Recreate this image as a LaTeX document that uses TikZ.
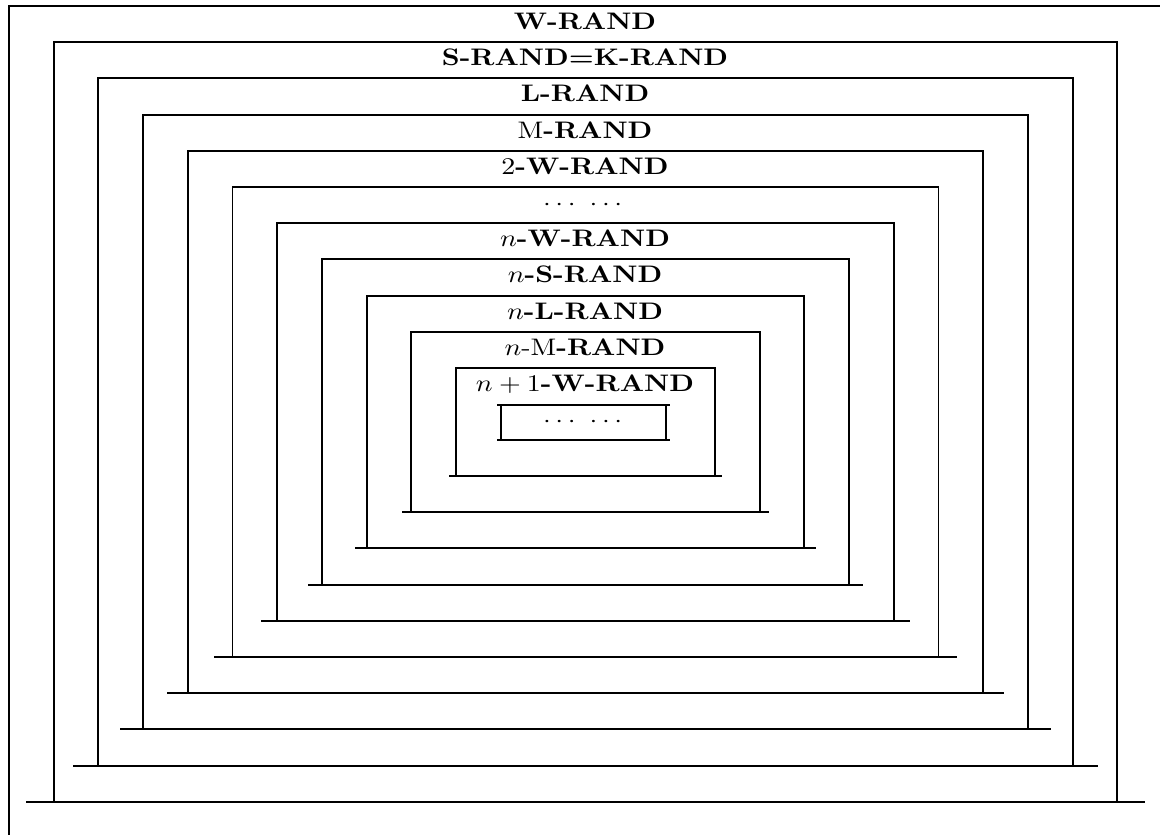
\documentclass[tikz,border=0pt]{standalone}
\usepackage{amsmath,amssymb}
\usetikzlibrary{calc}
\tikzset{frame/.style={line width=0.8pt,black},
  tag/.style={anchor=base,xscale=1.17,inner sep=0pt}}

\begin{document}
\begin{tikzpicture}[x=0.0147cm,y=0.0147cm]
\useasboundingbox (0,-834) rectangle (1160,0);
\clip (0,-834) rectangle (1160,0);
% nested frames: roof, two legs, foot bar
\foreach \k in {0,...,10}{
  \pgfmathsetmacro{\xl}{9+44.7*\k}
  \pgfmathsetmacro{\xr}{1162-44.7*\k}
  \pgfmathsetmacro{\yt}{-6-36.2*\k}
  \pgfmathsetmacro{\yb}{-838+36.2*\k}
  \pgfmathsetmacro{\ov}{30-2.3*\k}
  \draw[frame] (\xl,\yb) -- (\xl,\yt) -- (\xr,\yt) -- (\xr,\yb);
  \draw[frame] (\xl-\ov,\yb) -- (\xr+\ov,\yb);
}
% innermost box
\draw[frame] (501,-405) -- (501,-440) (666,-405) -- (666,-440);
\draw[frame] (497,-405) -- (670,-405) (497,-440) -- (670,-440);
\node[tag] (inner) at (585,-427) {$\cdots$ $\cdots$};
% labels in the roof bands
\foreach \k/\txt in {0/\textbf{W-RAND},1/\textbf{S-RAND=K-RAND},2/\textbf{L-RAND},
  3/M\textbf{-RAND},4/2\textbf{-W-RAND},5/$\cdots$ $\cdots$,
  6/$n$\textbf{-W-RAND},7/$n$\textbf{-S-RAND},8/$n$\textbf{-L-RAND},
  9/$n$-M\textbf{-RAND},10/$n+1$\textbf{-W-RAND}}
  \node[tag] (lab\k) at (585,{-29.5-36.2*\k}) {\txt};
\end{tikzpicture}
\end{document}
